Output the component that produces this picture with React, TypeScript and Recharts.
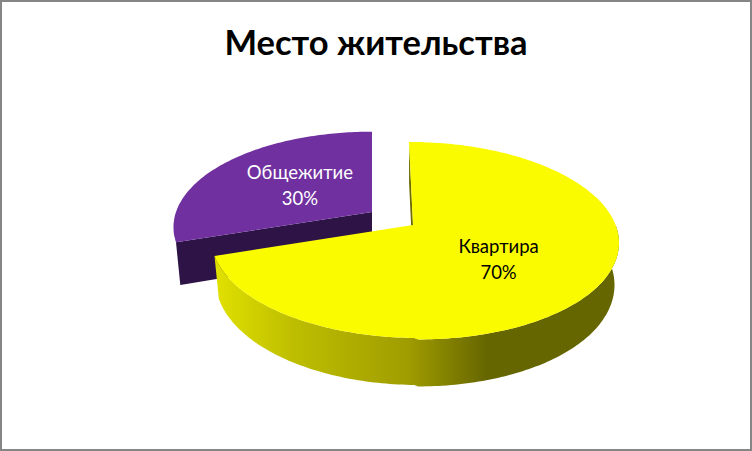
import React from "react";
import { PieChart, Pie } from "recharts";

const categories = ["Общежитие", "Квартира"];
const shares = [30, 70];
const sliceColors = ["#7030A0", "#FBFB00"];
const titleText = "Место жительства";
const rows = categories.map((name, i) => ({ name, value: shares[i], fill: sliceColors[i] }));

const FONT = "Lato, 'Noto Sans', sans-serif";
const TILT = 0.475;
const PERSP = 0.159;
// per-slice explosion of the 3D look, index order as the categories
const VIEW = [
  { dx: -41, dy: -13, scale: 0.98, skew: 0, labelAt: 0.475, labelDy: -1, widen: 1 },
  { dx: 0, dy: 0, scale: 1, skew: 4.6, labelAt: 0.49, labelDy: 6, widen: 1.013 },
];

const project = (p: any, deg: number, frac = 1) => {
  const v0 = VIEW[p.index];
  const a = (deg * Math.PI) / 180;
  const u = Math.cos(a) * frac;
  const v = -Math.sin(a) * frac;
  const w = 1 - PERSP * v;
  const R = p.outerRadius * v0.scale * (u > 0 ? v0.widen : 1);
  return {
    x: p.cx + v0.dx + (R * u + v0.skew * v) / w,
    y: p.cy + v0.dy + (R * TILT * v) / w,
    v,
  };
};

const lower = (p: any, pt: { x: number; y: number; v: number }) => {
  const v0 = VIEW[p.index];
  const ax = p.cx + v0.dx;
  return { x: ax + (pt.x - ax) * 0.978, y: pt.y + 41 + 6 * Math.max(pt.v, 0) };
};

const toPath = (pts: { x: number; y: number }[]) =>
  pts.map((q, i) => `${i ? "L" : "M"}${q.x.toFixed(1)} ${q.y.toFixed(1)}`).join(" ") + " Z";

const Slice3D = (p: any) => {
  const v0 = VIEW[p.index];
  const hi = Math.max(p.startAngle, p.endAngle);
  const lo = Math.min(p.startAngle, p.endAngle);
  const apex = { x: p.cx + v0.dx, y: p.cy + v0.dy, v: 0 };
  const arc: { x: number; y: number; v: number }[] = [];
  for (let d = hi; d > lo; d -= 1) arc.push(project(p, d));
  arc.push(project(p, lo));
  const front = arc.filter((q) => q.v >= -0.001);
  const wall = [...front, ...front.slice().reverse().map((q) => lower(p, q))];
  const first = arc[0];
  const isPurple = p.index === 0;
  return (
    <g>
      <defs>
        <linearGradient id="wallShade" gradientUnits="userSpaceOnUse" x1="216" x2="614" y1="0" y2="0">
          <stop offset="0" stopColor="#e0e000" />
          <stop offset="0.2" stopColor="#bdbd00" />
          <stop offset="0.48" stopColor="#a09d00" />
          <stop offset="0.68" stopColor="#666600" />
          <stop offset="1" stopColor="#666600" />
        </linearGradient>
      </defs>
      {isPurple ? (
        <path d={toPath([apex, first, lower(p, first), lower(p, apex)])} fill="#2D1346" />
      ) : (
        <>
          <path d={toPath([first, apex, lower(p, apex), lower(p, first)])} fill="#6B6B00" />
          <path d={toPath(wall)} fill="url(#wallShade)" />
        </>
      )}
      <path d={toPath([apex, ...arc])} fill={p.fill} />
    </g>
  );
};

const SliceLabel = (p: any) => {
  const v0 = VIEW[p.index];
  const at = project({ ...p, outerRadius: 200 }, p.midAngle, v0.labelAt);
  const y = at.y + v0.labelDy;
  return (
    <text
      x={at.x}
      y={y}
      textAnchor="middle"
      fontFamily={FONT}
      fontSize={18.5}
      fill={p.index === 0 ? "#FFFFFF" : "#000000"}
    >
      <tspan x={at.x} dy={-7}>{p.name}</tspan>
      <tspan x={at.x} dy={26}>{`${Math.round(p.percent * 100)}%`}</tspan>
    </text>
  );
};

export default function App() {
  return (
    <div style={{ position: "absolute", left: 0, top: 0, width: 752, height: 451, background: "#fff" }}>
      <PieChart width={752} height={451} margin={{ top: 0, right: 0, bottom: 0, left: 0 }}>
        <text x={376} y={55} textAnchor="middle" fontFamily={FONT} fontWeight={700} fontSize={34.5} fill="#000">
          {titleText}
        </text>
        <Pie
          data={rows}
          dataKey="value"
          nameKey="name"
          cx={413}
          cy={225}
          innerRadius={0}
          outerRadius={200}
          startAngle={198}
          endAngle={-162}
          paddingAngle={0}
          stroke="none"
          shape={Slice3D}
          label={SliceLabel}
          labelLine={false}
          isAnimationActive={false}
        />
      </PieChart>
      <div
        style={{
          position: "absolute",
          inset: 0,
          border: "2px solid #868686",
          boxSizing: "border-box",
          pointerEvents: "none",
        }}
      />
    </div>
  );
}
